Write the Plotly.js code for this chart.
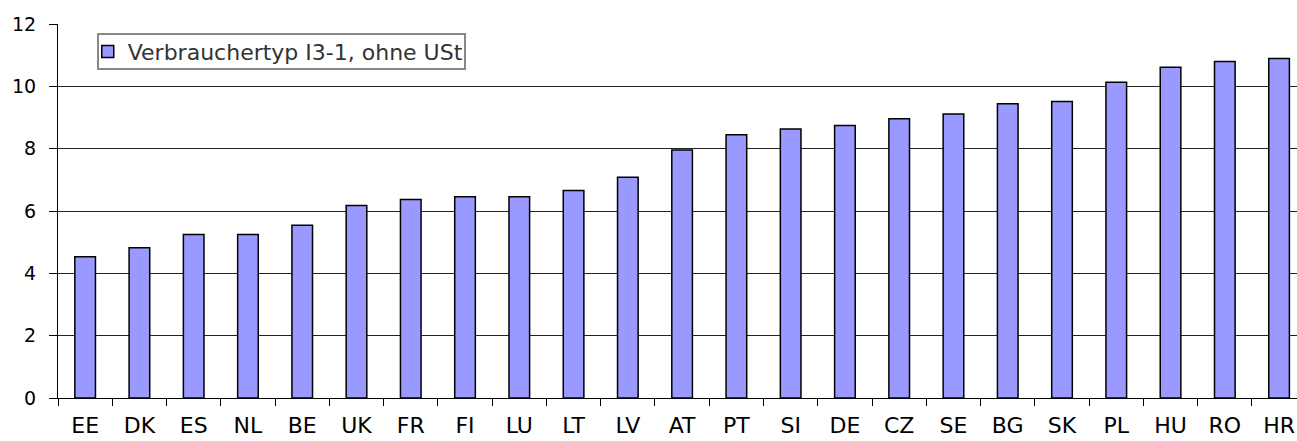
<!DOCTYPE html>
<html><head><meta charset="utf-8">
<script src="https://cdn.plot.ly/plotly-3.0.1.min.js"></script>
<style>html,body{margin:0;padding:0;background:#fff;overflow:hidden}</style>
</head><body><div id="chart" style="width:1297px;height:441px"></div>
<script>
const categories = ["EE","DK","ES","NL","BE","UK","FR","FI","LU","LT","LV","AT","PT","SI","DE","CZ","SE","BG","SK","PL","HU","RO","HR"];
const values = [4.53,4.82,5.25,5.25,5.54,6.18,6.37,6.46,6.46,6.66,7.08,7.96,8.45,8.63,8.74,8.96,9.11,9.44,9.51,10.13,10.61,10.80,10.89];
const seriesName = "Verbrauchertyp I3-1, ohne USt";
const yTicks = [0,2,4,6,8,10,12];

const trace = {
  type: 'bar', x: categories, y: values, name: seriesName,
  width: 0.38,
  marker: {color: '#9999FF', line: {color: '#000', width: 1.5}},
  showlegend: true
};
const layout = {
  width: 1297, height: 441,
  margin: {l: 58, r: 0, t: 24, b: 43},
  paper_bgcolor: '#fff', plot_bgcolor: '#fff',
  font: {family: 'DejaVu Sans, Arial, sans-serif', size: 18, color: '#000'},
  xaxis: {
    type: 'category', range: [-0.5, 22.33],
    showline: true, linecolor: '#000', linewidth: 1,
    ticks: 'outside', ticklen: 7, tickcolor: '#000', tickson: 'boundaries',
    showgrid: false, ticklabelstandoff: 8,
    tickfont: {size: 22}
  },
  yaxis: {
    range: [0, 12], tickvals: yTicks, ticktext: yTicks.map(String),
    showline: true, linecolor: '#000', linewidth: 1,
    ticks: 'outside', ticklen: 8, tickcolor: '#000',
    showgrid: true, gridcolor: '#222', gridwidth: 1, zeroline: false,
    ticklabelstandoff: 9,
    tickfont: {size: 19}
  },
  shapes: [{
    type: 'rect', xref: 'paper', yref: 'paper', layer: 'above',
    x0: 0.0323, x1: 0.3285, y0: 0.8796, y1: 0.973,
    line: {color: '#888', width: 2}, fillcolor: '#fff'
  }],
  legend: {
    x: 0.024, y: 0.926, xanchor: 'left', yanchor: 'middle',
    bgcolor: 'rgba(0,0,0,0)', borderwidth: 0,
    font: {size: 22, color: '#333'}
  }
};
Plotly.newPlot('chart', [trace], layout, {displayModeBar: false, staticPlot: true});
</script></body></html>
